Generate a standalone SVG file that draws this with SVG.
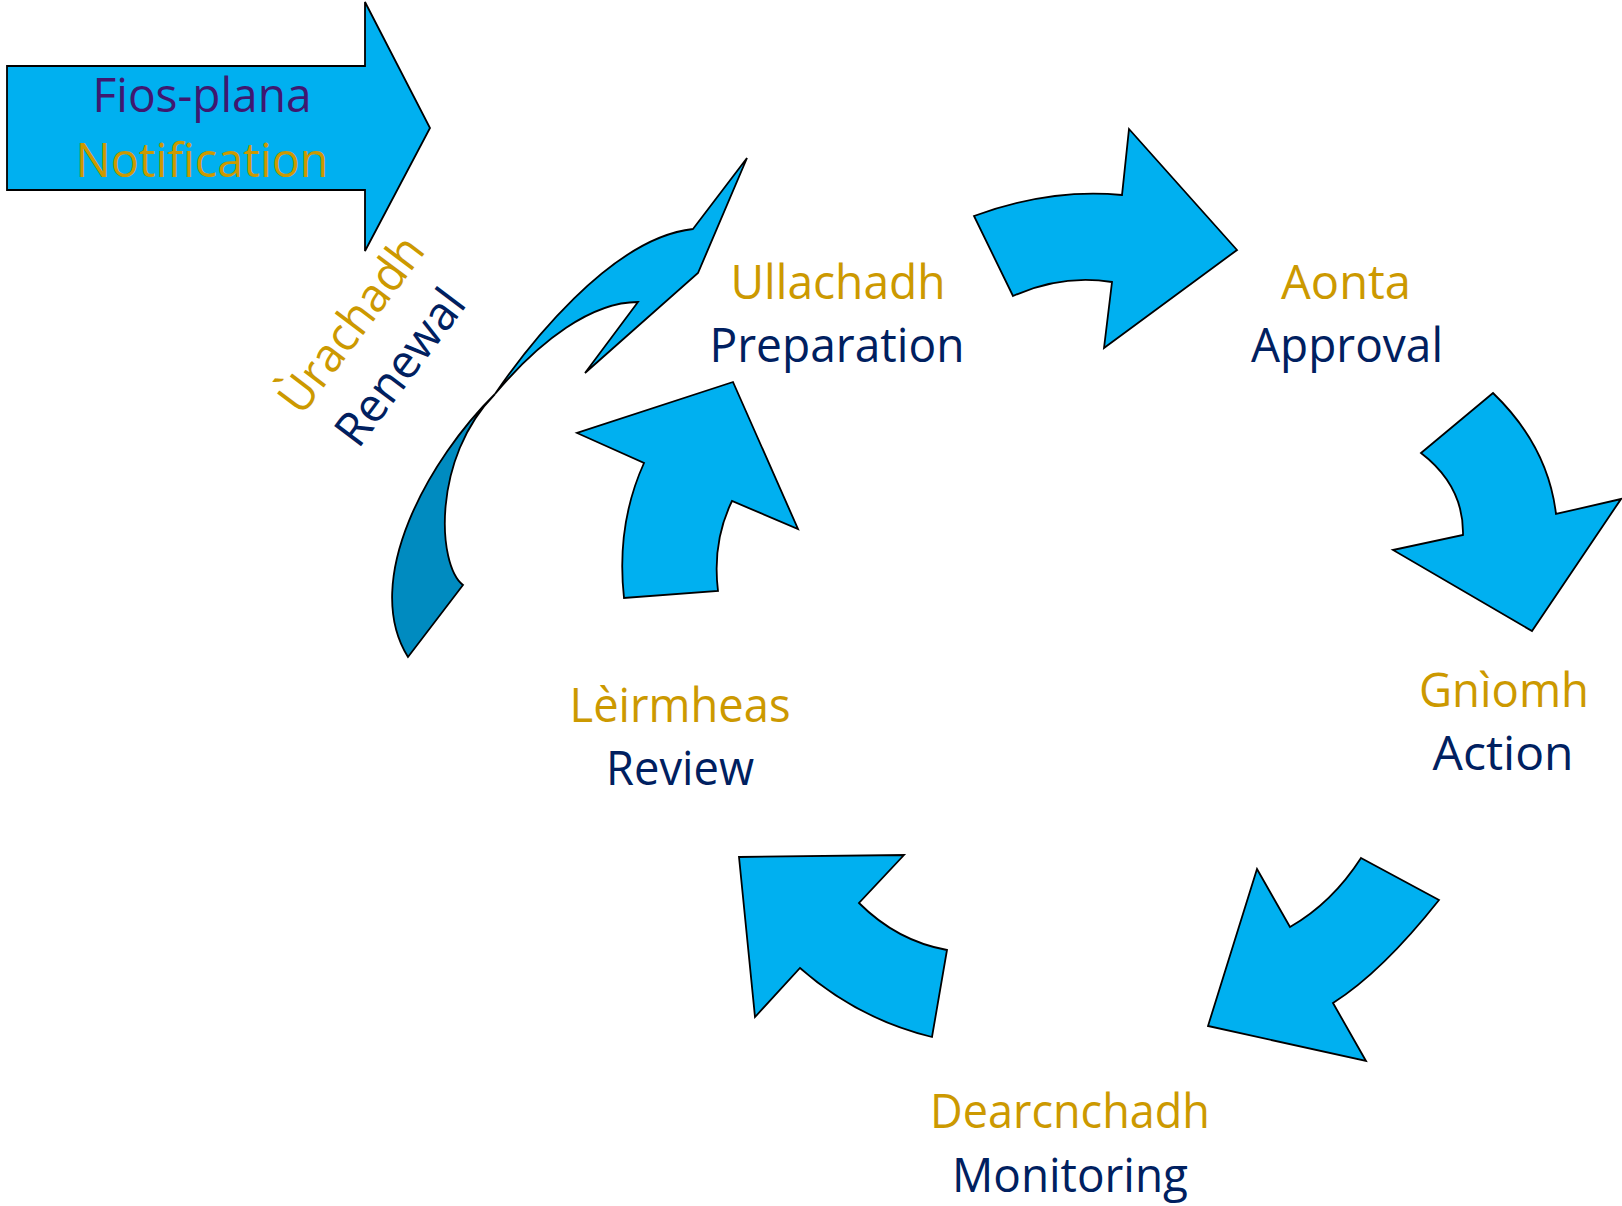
<svg xmlns="http://www.w3.org/2000/svg" width="1622" height="1206" viewBox="0 0 1622 1206">
  <style>
    .arrow { fill: #00B0F0; stroke: #000; stroke-width: 1.8; stroke-linejoin: miter; }
    .arrow-dark { fill: #008BC0; stroke: #000; stroke-width: 1.8; stroke-linejoin: miter; }
    text { font-family: "Open Sans", "Noto Sans", "Liberation Sans", sans-serif; font-size: 47px; text-anchor: middle; }
    .gold { fill: #CC9900; }
    .navy { fill: #002060; }
    .purple { fill: #3F1870; }
  </style>
  <rect width="1622" height="1206" fill="#fff"/>

  <!-- cycle arrows between the stages -->
  <g id="connectors">
    <!-- Notification block arrow -->
    <path id="arrow-notification" class="arrow" d="M7,66 H365 V2 L430,128 L365,251 V190 H7 Z"/>
    <!-- Preparation to Approval -->
    <path id="arrow-prep-approval" class="arrow" d="M974,216 Q1050,188 1122,195 L1129,129 L1237,250 L1104,348 L1112,282 Q1062,274 1013,296 Z"/>
    <!-- Approval to Action -->
    <path id="arrow-approval-action" class="arrow" d="M1493,393 Q1548,446 1556,514 L1621,499 L1532,631 L1393,550 L1463,535 Q1464,486 1421,453 Z"/>
    <!-- Action to Monitoring -->
    <path id="arrow-action-monitoring" class="arrow" d="M1361,858 L1439,900 Q1382,972 1333,1003 L1366,1061 L1208,1026 L1257,869 L1290,927 Q1332,903 1361,858 Z"/>
    <!-- Monitoring to Review -->
    <path id="arrow-monitoring-review" class="arrow" d="M739,857 L904,855 L859,903 Q897,941 947,950 L932,1037 Q858,1019 800,968 L755,1017 Z"/>
    <!-- Review to Preparation -->
    <path id="arrow-review-prep" class="arrow" d="M733,382 L798,529 L732,501 Q712,542 718,591 L624,598 Q616,525 644,463 L577,433 Z"/>
    <!-- Renewal twisted ribbon arrow -->
    <g id="arrow-renewal">
      <path class="arrow-dark" d="M495,394 C430,458 360,580 408,657 L463,585 C437,565 432,458 495,394 Z"/>
      <path class="arrow" d="M495,394 C525,350 610,238 693,229 L747,158 L698,273 L585,373 L638,302 C592,302 540,340 495,394 Z"/>
    </g>
  </g>

  <g id="node-notification">
    <text class="purple" x="202" y="112" textLength="219" lengthAdjust="spacingAndGlyphs">Fios-plana</text>
    <text class="gold" x="202" y="177" textLength="253" lengthAdjust="spacingAndGlyphs">Notification</text>
  </g>

  <g id="node-preparation">
    <text class="gold" x="838" y="299" textLength="215" lengthAdjust="spacingAndGlyphs">Ullachadh</text>
    <text class="navy" x="837" y="362" textLength="255" lengthAdjust="spacingAndGlyphs">Preparation</text>
  </g>

  <g id="node-approval">
    <text class="gold" x="1346" y="299" textLength="130" lengthAdjust="spacingAndGlyphs">Aonta</text>
    <text class="navy" x="1347" y="362" textLength="192" lengthAdjust="spacingAndGlyphs">Approval</text>
  </g>

  <g id="node-action">
    <text class="gold" x="1504" y="707" textLength="170" lengthAdjust="spacingAndGlyphs">Gnìomh</text>
    <text class="navy" x="1503" y="770" textLength="141" lengthAdjust="spacingAndGlyphs">Action</text>
  </g>

  <g id="node-monitoring">
    <text class="gold" x="1070" y="1128" textLength="280" lengthAdjust="spacingAndGlyphs">Dearcnchadh</text>
    <text class="navy" x="1070" y="1192" textLength="236" lengthAdjust="spacingAndGlyphs">Monitoring</text>
  </g>

  <g id="node-review">
    <text class="gold" x="680" y="722" textLength="221" lengthAdjust="spacingAndGlyphs">Lèirmheas</text>
    <text class="navy" x="680" y="785" textLength="148" lengthAdjust="spacingAndGlyphs">Review</text>
  </g>

  <g id="node-renewal" transform="translate(364,334) rotate(-53)">
    <text class="gold" x="0" y="0" textLength="208" lengthAdjust="spacingAndGlyphs">Ùrachadh</text>
    <text class="navy" x="-5" y="65" textLength="182" lengthAdjust="spacingAndGlyphs">Renewal</text>
  </g>
</svg>
